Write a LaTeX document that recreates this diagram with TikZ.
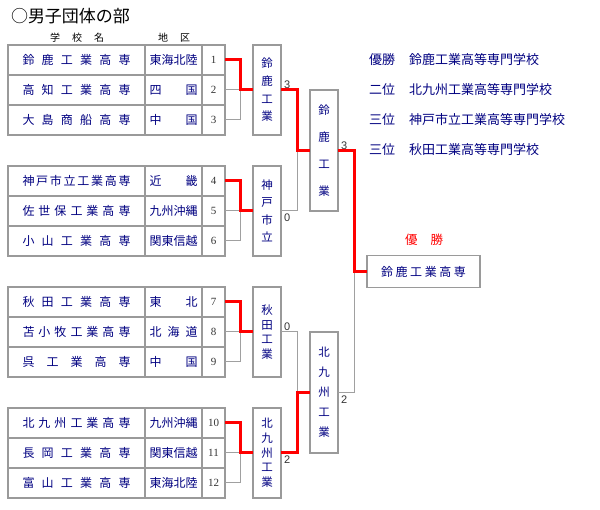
\documentclass[tikz,border=0pt]{standalone}
\usepackage{fontspec}
\setmainfont{Liberation Serif}
\setsansfont{Liberation Sans}
\newfontfamily\jpfont{Noto Sans CJK JP}
\usepackage{xcolor}
\usetikzlibrary{positioning}

\definecolor{schoolblue}{HTML}{000080}
\definecolor{framegray}{HTML}{9A9A9A}
\definecolor{linegray}{HTML}{A0A0A0}
\definecolor{winred}{HTML}{FF0000}

% spread the characters of #2 over a width #1
\newcommand\spreadbox[2]{\makebox[#1][s]{\spreadloop#2\relax}}
\def\spreadloop#1#2{#1\ifx\relax#2\else\hfill\expandafter\spreadloop\expandafter#2\fi}

\begin{document}
\begin{tikzpicture}[
  x=1pt, y=-1pt,
  % --- global style ---
  every node/.style={inner sep=0pt, outer sep=0pt},
  cell/.style={
    draw=framegray, line width=1.2pt, minimum height=30pt,
    text=schoolblue, font=\jpfont\fontsize{12}{12}\selectfont
  },
  namecell/.style={cell, minimum width=137pt},
  areacell/.style={cell, minimum width=57pt},
  numcell/.style={
    cell, minimum width=23pt, text=black!80,
    font=\rmfamily\fontsize{11}{11}\selectfont
  },
  vbox/.style={
    draw=framegray, line width=1.2pt, minimum width=28pt,
    text=schoolblue, align=center,
    font=\jpfont\fontsize{11.5}{#1}\selectfont
  },
  score/.style={font=\sffamily\fontsize{11}{11}\selectfont, text=black!80},
  result/.style={anchor=west, text=schoolblue, font=\jpfont\fontsize{13}{13}\selectfont},
  lose/.style={draw=linegray, line width=1pt},
  win/.style={draw=winred, line width=3pt},
]
\useasboundingbox (0,0) rectangle (600,510);

% ====== Title and headers ======
\node[anchor=west, font=\jpfont\fontsize{17}{17}\selectfont] (title) at (11,16.5) {○男子団体の部};
\node[font=\jpfont\fontsize{10}{10}\selectfont] (hdname) at (77,38) {\spreadbox{54pt}{学校名}};
\node[font=\jpfont\fontsize{10}{10}\selectfont] (hdarea) at (174,38) {\spreadbox{32pt}{地区}};

% ====== Block 1 ======
\node[namecell, anchor=north west] (s1) at (8,45) {\spreadbox{108pt}{鈴鹿工業高専}};
\node[areacell, right=0pt of s1] (a1) {\spreadbox{48pt}{東海北陸}};
\node[numcell, right=0pt of a1] (n1) {1};
\node[namecell, below=0pt of s1] (s2) {\spreadbox{108pt}{高知工業高専}};
\node[areacell, right=0pt of s2] (a2) {\spreadbox{48pt}{四国}};
\node[numcell, right=0pt of a2] (n2) {2};
\node[namecell, below=0pt of s2] (s3) {\spreadbox{108pt}{大島商船高専}};
\node[areacell, right=0pt of s3] (a3) {\spreadbox{48pt}{中国}};
\node[numcell, right=0pt of a3] (n3) {3};

% ====== Block 2 ======
\node[namecell, anchor=north west] (s4) at (8,166) {\spreadbox{108pt}{神戸市立工業高専}};
\node[areacell, right=0pt of s4] (a4) {\spreadbox{48pt}{近畿}};
\node[numcell, right=0pt of a4] (n4) {4};
\node[namecell, below=0pt of s4] (s5) {\spreadbox{108pt}{佐世保工業高専}};
\node[areacell, right=0pt of s5] (a5) {\spreadbox{48pt}{九州沖縄}};
\node[numcell, right=0pt of a5] (n5) {5};
\node[namecell, below=0pt of s5] (s6) {\spreadbox{108pt}{小山工業高専}};
\node[areacell, right=0pt of s6] (a6) {\spreadbox{48pt}{関東信越}};
\node[numcell, right=0pt of a6] (n6) {6};

% ====== Block 3 ======
\node[namecell, anchor=north west] (s7) at (8,287) {\spreadbox{108pt}{秋田工業高専}};
\node[areacell, right=0pt of s7] (a7) {\spreadbox{48pt}{東北}};
\node[numcell, right=0pt of a7] (n7) {7};
\node[namecell, below=0pt of s7] (s8) {\spreadbox{108pt}{苫小牧工業高専}};
\node[areacell, right=0pt of s8] (a8) {\spreadbox{48pt}{北海道}};
\node[numcell, right=0pt of a8] (n8) {8};
\node[namecell, below=0pt of s8] (s9) {\spreadbox{108pt}{呉工業高専}};
\node[areacell, right=0pt of s9] (a9) {\spreadbox{48pt}{中国}};
\node[numcell, right=0pt of a9] (n9) {9};

% ====== Block 4 ======
\node[namecell, anchor=north west] (s10) at (8,408) {\spreadbox{108pt}{北九州工業高専}};
\node[areacell, right=0pt of s10] (a10) {\spreadbox{48pt}{九州沖縄}};
\node[numcell, right=0pt of a10] (n10) {10};
\node[namecell, below=0pt of s10] (s11) {\spreadbox{108pt}{長岡工業高専}};
\node[areacell, right=0pt of s11] (a11) {\spreadbox{48pt}{関東信越}};
\node[numcell, right=0pt of a11] (n11) {11};
\node[namecell, below=0pt of s11] (s12) {\spreadbox{108pt}{富山工業高専}};
\node[areacell, right=0pt of s12] (a12) {\spreadbox{48pt}{東海北陸}};
\node[numcell, right=0pt of a12] (n12) {12};

% ====== Block winners ======
\node[vbox=17.7pt, minimum height=90pt, right=28pt of n2] (q1) {鈴\\鹿\\工\\業};
\node[vbox=17.3pt, minimum height=90pt, right=28pt of n5] (q2) {神\\戸\\市\\立};
\node[vbox=14.5pt, minimum height=90pt, right=28pt of n8] (q3) {秋\\田\\工\\業};
\node[vbox=14.7pt, minimum height=90pt, right=28pt of n11] (q4) {北\\九\\州\\工\\業};

% ====== Semi finals and final ======
\node[vbox=27pt, minimum height=121pt] (m1) at (324,150.5) {鈴\\鹿\\工\\業};
\node[vbox=20pt, minimum height=121pt] (m2) at (324,392.5) {北\\九\\州\\工\\業};
\node[draw=framegray, line width=1.2pt, minimum width=113pt, minimum height=32pt,
      text=schoolblue, font=\jpfont\fontsize{12}{12}\selectfont]
  (fin) at (423.5,271.5) {\spreadbox{85pt}{鈴鹿工業高専}};
\node[text=winred, font=\jpfont\fontsize{12.5}{12.5}\selectfont] (champ) at (424,240)
  {\spreadbox{38pt}{優勝}};

% scores
\node[score, above right=1pt and 3pt of q1.east] (sc1) {3};
\node[score, below right=3pt and 3pt of q2.east] (sc2) {0};
\node[score, above right=1pt and 3pt of q3.east] (sc3) {0};
\node[score, below right=3pt and 3pt of q4.east] (sc4) {2};
\node[score, above right=1pt and 3pt of m1.east] (sc5) {3};
\node[score, below right=3pt and 3pt of m2.east] (sc6) {2};

% ====== Arrows: losers first ======
\draw[lose] (n2.east) -- ++(15,0);
\draw[lose] (n3.east) -- ++(15,0) |- (q1.west);
\draw[lose] (n5.east) -- ++(15,0);
\draw[lose] (n6.east) -- ++(15,0) |- (q2.west);
\draw[lose] (n8.east) -- ++(15,0);
\draw[lose] (n9.east) -- ++(15,0) |- (q3.west);
\draw[lose] (n11.east) -- ++(15,0);
\draw[lose] (n12.east) -- ++(15,0) |- (q4.west);
\draw[lose] (q2.east) -- ++(16,0) |- (m1.west);
\draw[lose] (q3.east) -- ++(16,0) |- (m2.west);
\draw[lose] (m2.east) -- ++(16,0) |- (fin.west);

% ====== Arrows: winners ======
\draw[win] (n1.east) -- ++(15,0) |- (q1.west);
\draw[win] (n4.east) -- ++(15,0) |- (q2.west);
\draw[win] (n7.east) -- ++(15,0) |- (q3.west);
\draw[win] (n10.east) -- ++(15,0) |- (q4.west);
\draw[win] (q1.east) -- ++(16,0) |- (m1.west);
\draw[win] (q4.east) -- ++(16,0) |- (m2.west);
\draw[win] (m1.east) -- ++(16,0) |- (fin.west);

% ====== Right side: results ======
\node[result] (rl1) at (369,60) {優勝};
\node[result] (rl2) at (369,90) {二位};
\node[result] (rl3) at (369,120) {三位};
\node[result] (rl4) at (369,150) {三位};
\node[result] (rn1) at (409,60) {鈴鹿工業高等専門学校};
\node[result] (rn2) at (409,90) {北九州工業高等専門学校};
\node[result] (rn3) at (409,120) {神戸市立工業高等専門学校};
\node[result] (rn4) at (409,150) {秋田工業高等専門学校};

\end{tikzpicture}
\end{document}
